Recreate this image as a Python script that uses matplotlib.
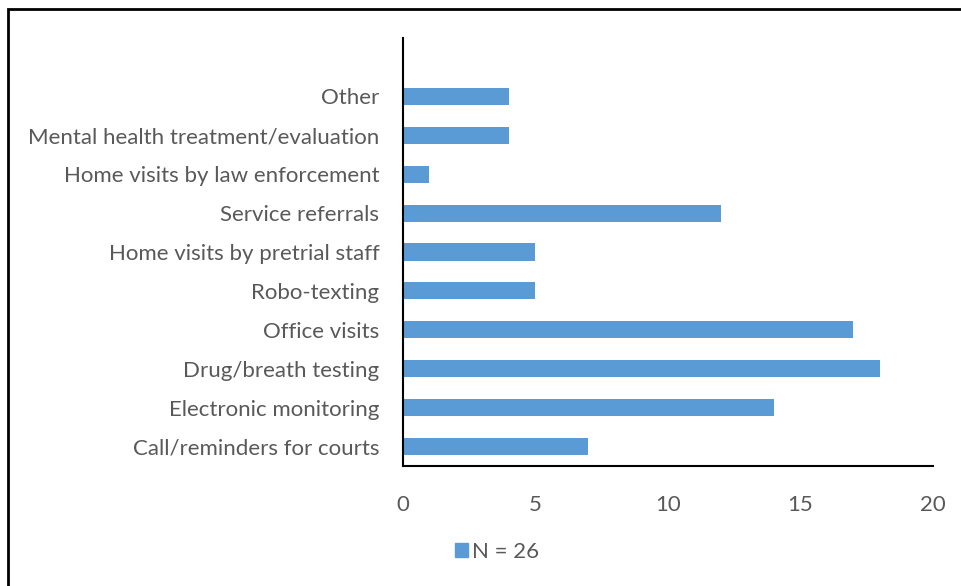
import matplotlib
matplotlib.use("Agg")
import matplotlib.pyplot as plt
from matplotlib.patches import Rectangle, Patch

categories = ["Call/reminders for courts", "Electronic monitoring", "Drug/breath testing",
              "Office visits", "Robo-texting", "Home visits by pretrial staff",
              "Service referrals", "Home visits by law enforcement",
              "Mental health treatment/evaluation", "Other"]
values = [7, 14, 18, 17, 5, 5, 12, 1, 4, 4]
xticks = [0, 5, 10, 15, 20]
legend_label = "N = 26"

plt.rcParams['font.family'] = ['Lato', 'DejaVu Sans']
grey = '#595959'
bar_color = '#5B9BD5'
fs = 16

fig = plt.figure(figsize=(9.62, 5.86), dpi=100)
ax = fig.add_axes([403/962, (586-466)/586, (933-403)/962, (466-38)/586])

ypos = list(range(len(categories)))
ax.barh(ypos, values, height=0.44, color=bar_color, zorder=2)
ax.set_yticks(ypos)
ax.set_yticklabels(categories, fontsize=fs, color=grey)
ax.set_xticks(xticks)
ax.set_xticklabels([str(t) for t in xticks], fontsize=fs, color=grey)
ax.set_xlim(0, 20)
ax.set_ylim(-0.5, 10.5)
ax.tick_params(axis='both', length=0)
ax.tick_params(axis='y', pad=17)
ax.tick_params(axis='x', pad=21)
for s in ['top', 'right']:
    ax.spines[s].set_visible(False)
for s in ['left', 'bottom']:
    ax.spines[s].set_color('black')
    ax.spines[s].set_linewidth(1.5)

leg = fig.legend(handles=[Patch(color=bar_color, label=legend_label)],
                 loc='center', bbox_to_anchor=(497/962, (586-552)/586),
                 frameon=False, fontsize=fs, handlelength=0.6, handleheight=0.6,
                 handletextpad=0.2)
for t in leg.get_texts():
    t.set_color(grey)

fig.patches.append(Rectangle((8/962, -0.1), 1.2, (586-9)/586 + 0.1,
                             transform=fig.transFigure, fill=False,
                             edgecolor='black', linewidth=2))

fig.savefig("out.png", dpi=100)
